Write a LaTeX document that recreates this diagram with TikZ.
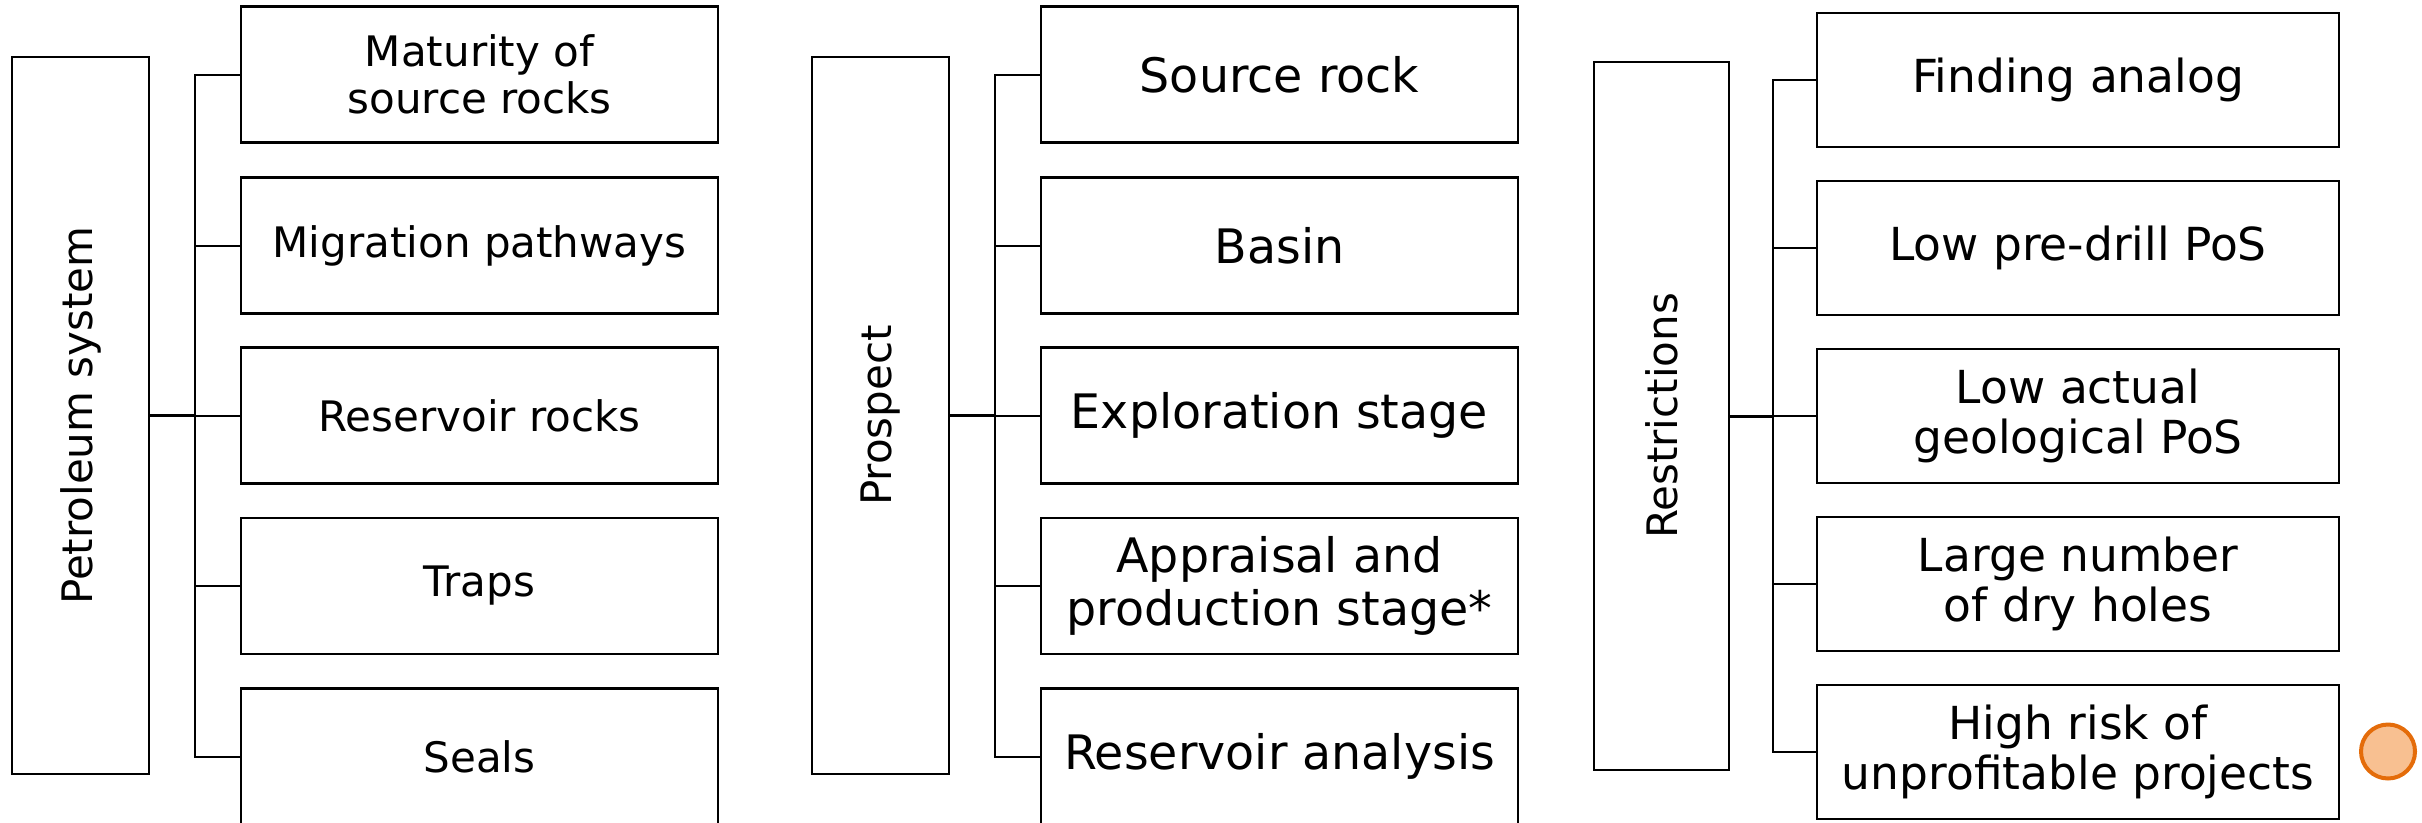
\documentclass[tikz,border=0pt]{standalone}
\usepackage{fontspec}
\setmainfont{DejaVu Sans}
\definecolor{dotfill}{HTML}{F8C091}
\definecolor{dotline}{HTML}{E46C0A}
\begin{document}
\begin{tikzpicture}[x=1pt,y=-1pt,
  box/.style={draw=black,line width=2.2pt,inner sep=0pt,align=center},
  mainbox/.style={box,minimum width=137pt,minimum height=717pt},
  leftchild/.style={box,minimum width=477pt,minimum height=136pt,font=\fontsize{42}{47}\selectfont},
  midchild/.style={box,minimum width=477pt,minimum height=136pt,font=\fontsize{47.5}{53}\selectfont},
  rightchild/.style={box,minimum width=522pt,minimum height=134pt,font=\fontsize{45.5}{50}\selectfont},
  vlabel/.style={rotate=90,font=\fontsize{42}{46}\selectfont},
  link/.style={line width=2pt},
  stem/.style={line width=3pt}]
\useasboundingbox (0,0) rectangle (2422,822);
% ---------- left panel ----------
\node[mainbox] (P) at (80.5,415.5) {};
\node[vlabel] (Plab) at (P.center) {Petroleum system};
\node[leftchild] (p1) at (479.5,74.5) {Maturity of\\source rocks};
\node[leftchild] (p2) at (479.5,245.5) {Migration pathways};
\node[leftchild] (p3) at (479.5,415.5) {Reservoir rocks};
\node[leftchild] (p4) at (479.5,586) {Traps};
\node[leftchild] (p5) at (479.5,756.5) {Seals};
\coordinate (busP) at (195,0);
\draw[link] (p1.west) -- (p1.west -| busP) -- (p5.west -| busP) -- (p5.west);
\foreach \i in {2,3,4} \draw[link] (p\i.west) -- (p\i.west -| busP);
\draw[stem] (P.east |- p3.west) -- (p3.west -| busP);
% ---------- middle panel ----------
\node[mainbox] (R) at (880.5,415.5) {};
\node[vlabel] (Rlab) at (R.center) {Prospect};
\node[midchild] (r1) at (1279.5,74.5) {Source rock};
\node[midchild] (r2) at (1279.5,245.5) {Basin};
\node[midchild] (r3) at (1279.5,415.5) {Exploration stage};
\node[midchild] (r4) at (1279.5,586) {Appraisal and\\production stage*};
\node[midchild] (r5) at (1279.5,756.5) {Reservoir analysis};
\coordinate (busR) at (995,0);
\draw[link] (r1.west) -- (r1.west -| busR) -- (r5.west -| busR) -- (r5.west);
\foreach \i in {2,3,4} \draw[link] (r\i.west) -- (r\i.west -| busR);
\draw[stem] (R.east |- r3.west) -- (r3.west -| busR);
% ---------- right panel ----------
\node[box,minimum width=135pt,minimum height=708pt] (S) at (1661.5,416) {};
\node[vlabel] (Slab) at (S.center) {Restrictions};
\node[rightchild] (s1) at (2078,80) {Finding analog};
\node[rightchild] (s2) at (2078,247.7) {Low pre-drill PoS};
\node[rightchild] (s3) at (2078,416) {Low actual\\geological PoS};
\node[rightchild] (s4) at (2078,583.8) {Large number\\of dry holes};
\node[rightchild] (s5) at (2078,752) {High risk of\\unprofitable projects};
\coordinate (busS) at (1773,0);
\draw[link] (s1.west) -- (s1.west -| busS) -- (s5.west -| busS) -- (s5.west);
\foreach \i in {2,3,4} \draw[link] (s\i.west) -- (s\i.west -| busS);
\draw[stem] (S.east |- s3.west) -- (s3.west -| busS);
% ---------- dot ----------
\node[circle,draw=dotline,fill=dotfill,line width=4pt,minimum size=54pt,inner sep=0pt] (dot) at (2388,751.5) {};
\end{tikzpicture}
\end{document}
